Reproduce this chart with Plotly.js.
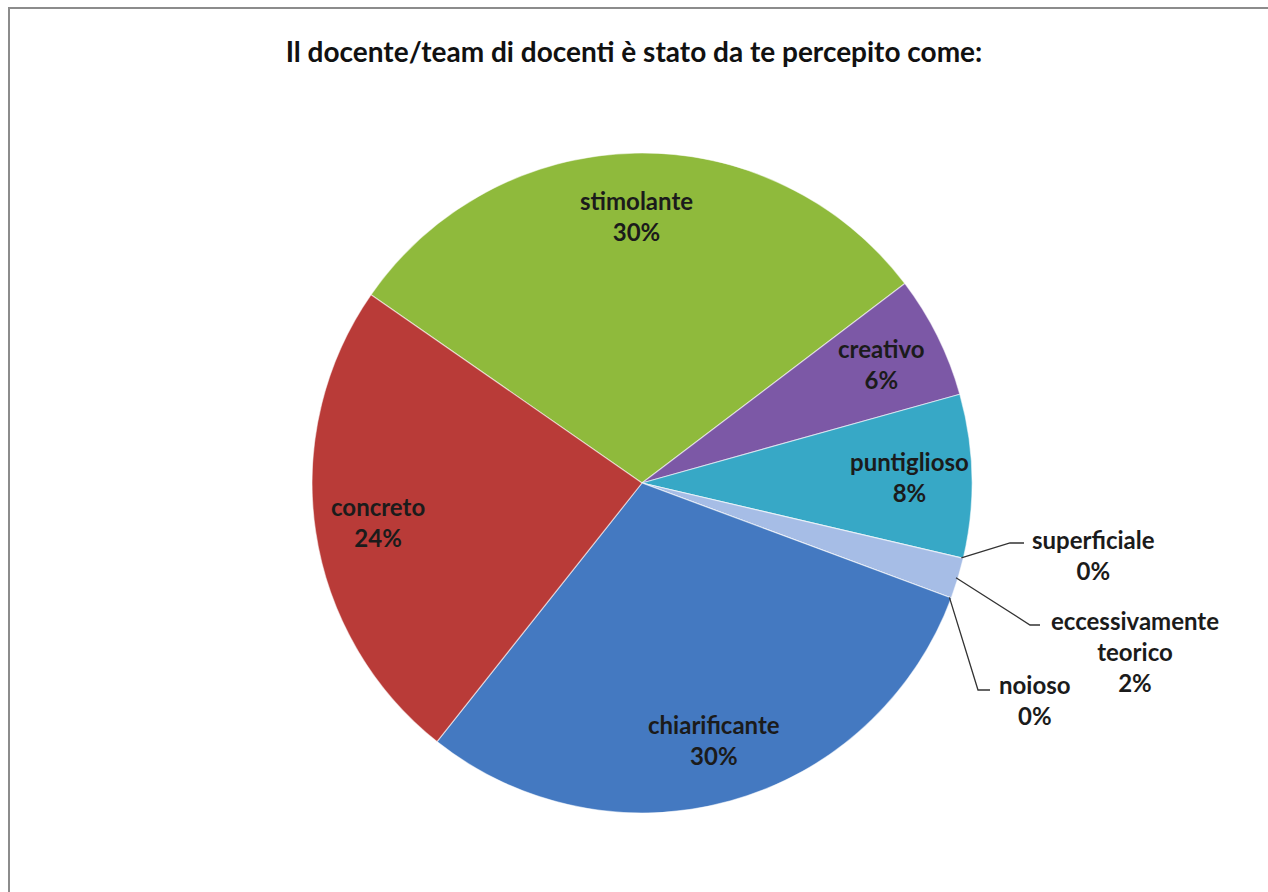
<!DOCTYPE html>
<html>
<head>
<meta charset="utf-8">
<script src="https://cdn.plot.ly/plotly-3.0.1.min.js"></script>
<style>html,body{margin:0;padding:0;background:#fff;}#chart{width:1268px;height:892px;}</style>
</head>
<body>
<div id="chart"></div>
<script>
// ---- data ----
const labels = ['stimolante', 'creativo', 'puntiglioso', 'superficiale', 'eccessivamente teorico', 'noioso', 'chiarificante', 'concreto'];
const values = [30, 6, 8, 0, 2, 0, 30, 24];
const labelLines = ['stimolante', 'creativo', 'puntiglioso', 'superficiale', 'eccessivamente<br>teorico', 'noioso', 'chiarificante', 'concreto'];
const colors = ['#8fba3c', '#7c58a6', '#37a8c6', '#b9cdee', '#a6bde6', '#c8d6f0', '#4479c1', '#b93b38'];
const titleText = 'Il docente/team di docenti è stato da te percepito come:';

// ---- layout constants (pixels) ----
const W = 1268, H = 892;
const CX = 642, CY = 483, R = 330;
const ROT = -55.2;
const FONT = 'Lato, "Open Sans", sans-serif';
const LABEL_SIZE = 24;
const px = x => x / W;
const py = y => 1 - y / H;

const total = values.reduce((a, b) => a + b, 0);
const pct = values.map(v => Math.round(v / total * 100) + '%');

// angle (deg clockwise from north) of each slice
let cum = ROT;
const mids = [];
values.forEach(v => {
  const span = v / total * 360;
  mids.push(cum + span / 2);
  cum += span;
});
const pt = (ang, r) => {
  const a = ang * Math.PI / 180;
  return [CX + r * Math.sin(a), CY - r * Math.cos(a)];
};

// outside labels (small slices): label centre and elbow of leader line, pixels
const outside = {
  3: {lx: 1093, ly: 555, ex: 1010, ey: 543, hx: 1024},
  4: {lx: 1135, ly: 651, ex: 1030, ey: 625, hx: 1040},
  5: {lx: 1035, ly: 700, ex: 978, ey: 690, hx: 990}
};

const annotations = [];
const shapes = [];
values.forEach((v, i) => {
  const text = labelLines[i] + '<br>' + pct[i];
  if (outside[i]) {
    const o = outside[i];
    const [x0, y0] = pt(mids[i], R - 2);
    annotations.push({
      xref: 'paper', yref: 'paper', x: px(o.lx), y: py(o.ly),
      xanchor: 'center', yanchor: 'middle', showarrow: false,
      text: text, font: {family: FONT, size: LABEL_SIZE, color: '#1b1b1b', weight: 700}
    });
    shapes.push({
      type: 'path', xref: 'paper', yref: 'paper',
      path: `M${px(x0)},${py(y0)} L${px(o.ex)},${py(o.ey)} L${px(o.hx)},${py(o.ey)}`,
      line: {color: '#333', width: 1.3}
    });
  } else {
    const [x, y] = pt(mids[i], R * 0.81);
    annotations.push({
      xref: 'paper', yref: 'paper', x: px(x), y: py(y),
      xanchor: 'center', yanchor: 'middle', showarrow: false,
      text: text, font: {family: FONT, size: LABEL_SIZE, color: '#1b1b1b', weight: 700}
    });
  }
});

// chart border
shapes.push({
  type: 'rect', xref: 'paper', yref: 'paper',
  x0: px(9), y0: -0.05, x1: 1.05, y1: py(8),
  line: {color: '#8c8c8c', width: 2}, fillcolor: 'rgba(0,0,0,0)', layer: 'below'
});

const trace = {
  type: 'pie',
  labels: labels,
  values: values,
  sort: false,
  direction: 'clockwise',
  rotation: ROT,
  textinfo: 'none',
  hoverinfo: 'label+percent',
  marker: {colors: colors, line: {color: 'rgba(255,255,255,0.55)', width: 1.2}},
  domain: {x: [px(CX - R), px(CX + R)], y: [py(CY + R), py(CY - R)]},
  showlegend: false
};

const layout = {
  width: W, height: H,
  margin: {l: 0, r: 0, t: 0, b: 0},
  paper_bgcolor: '#ffffff',
  title: {
    text: '<b>' + titleText + '</b>',
    x: 0.5, xanchor: 'center', y: py(52), yanchor: 'middle', yref: 'paper',
    font: {family: FONT, size: 28, color: '#111'}
  },
  annotations: annotations,
  shapes: shapes,
  showlegend: false
};

Plotly.newPlot('chart', [trace], layout, {displayModeBar: false, staticPlot: true});
</script>
</body>
</html>
